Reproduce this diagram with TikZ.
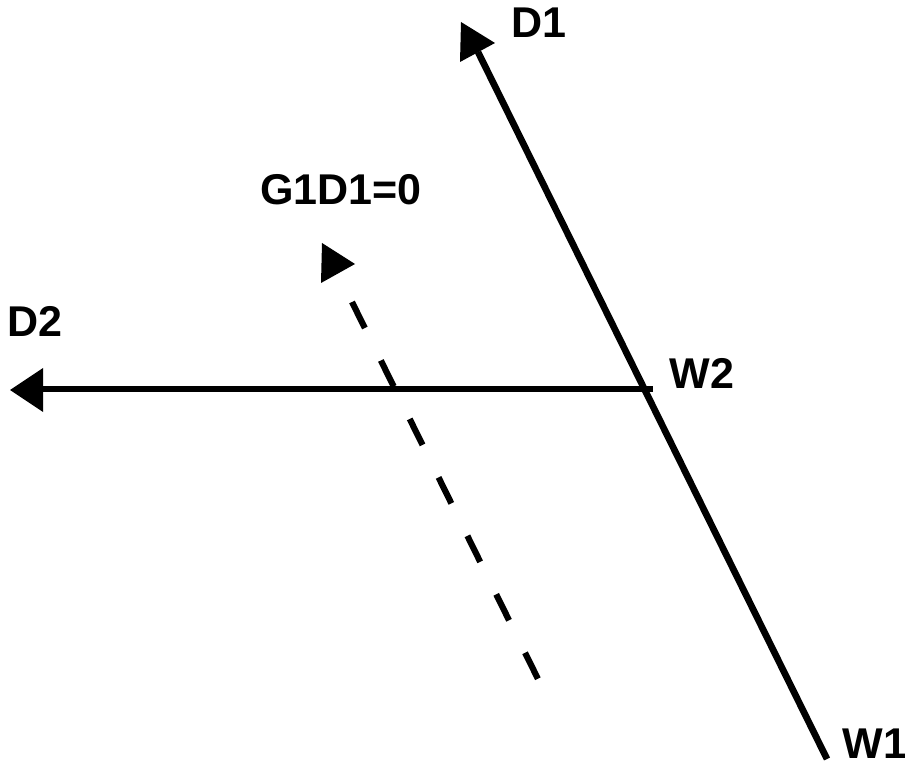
\documentclass[tikz,border=0pt]{standalone}
\usepackage{fontspec}
\setmainfont{Liberation Sans}
\usepackage{tikz}
\usetikzlibrary{positioning}
\tikzstyle{axis}  = [line width=3.8pt, line cap=butt]
\tikzstyle{zero}  = [axis, line width=3.5pt, dash pattern=on 0.58cm off 0.724cm]
\tikzstyle{head}  = [fill=black]
\tikzstyle{lbl}   = [font=\fontsize{24.5}{29}\selectfont\bfseries, inner sep=0pt]

\begin{document}
\begin{tikzpicture}[x=0.02cm, y=-0.02cm]
    \useasboundingbox (0,0) rectangle (905,766);

    % ends of the lines
    \coordinate (w1)   at (827,759);
    \coordinate (d1)   at (478,52);
    \coordinate (w2)   at (653,389);
    \coordinate (d2)   at (40,389);
    \coordinate (gtop) at (352,302);
    \coordinate (gbot) at (538,679);

    \draw[axis] (w1) -- (d1);
    \draw[axis] (w2) -- (d2);
    \draw[zero] (gtop) -- (gbot);

    % arrow heads
    \fill[head] (461,22) -- (495,43) -- (460,62) -- cycle;
    \fill[head] (43,368) -- (10,390) -- (43,412) -- cycle;
    \fill[head] (322,243) -- (355,264) -- (321,283) -- cycle;

    \node[lbl] (D1)  at (539,23)  {D1};
    \node[lbl] (D2)  at (35,321)  {D2};
    \node[lbl] (W2)  at (702,373) {W2};
    \node[lbl] (W1)  at (875,744) {W1};
    \node[lbl] (G1D1) at (341,190) {G1D1=0};
  \end{tikzpicture}
\end{document}
